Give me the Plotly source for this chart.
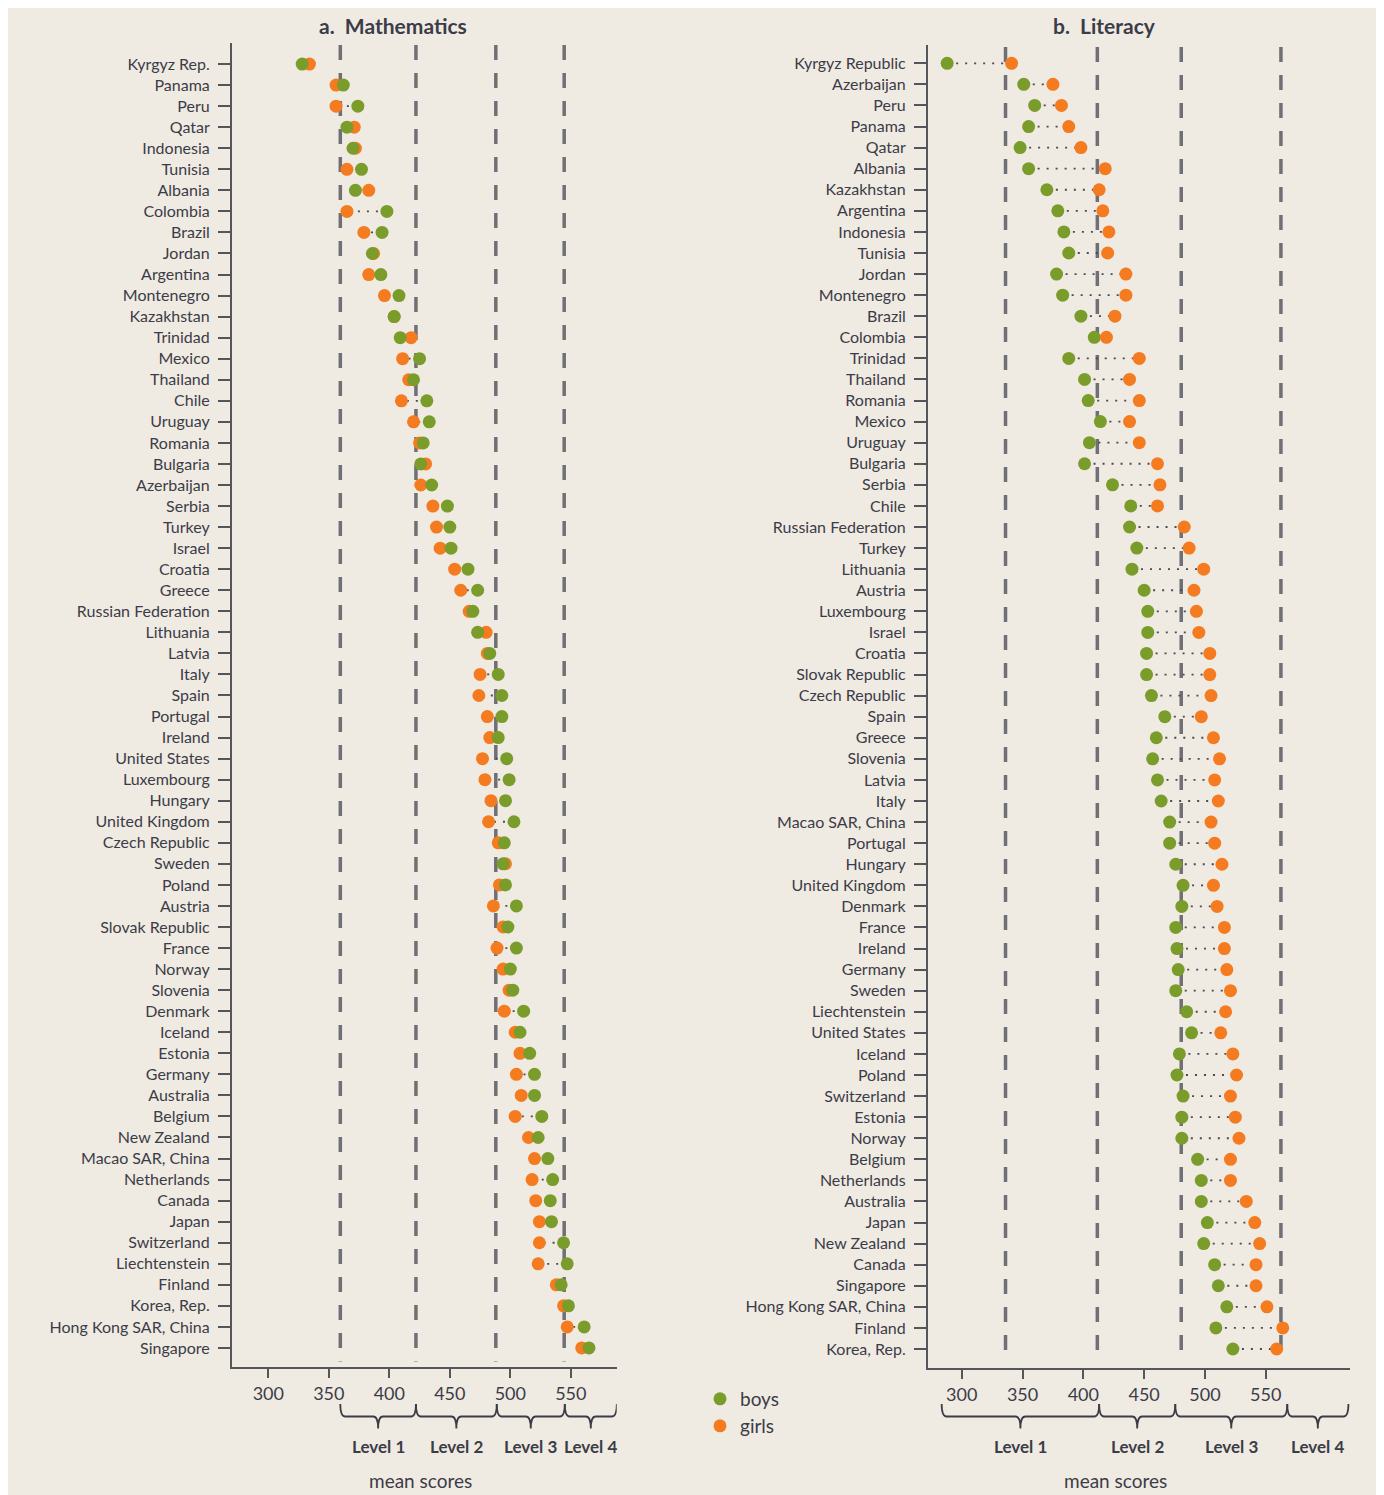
import plotly.graph_objects as go

# ---------------- data ----------------
math_countries = ["Kyrgyz Rep.", "Panama", "Peru", "Qatar", "Indonesia", "Tunisia", "Albania", "Colombia",
                  "Brazil", "Jordan", "Argentina", "Montenegro", "Kazakhstan", "Trinidad", "Mexico", "Thailand",
                  "Chile", "Uruguay", "Romania", "Bulgaria", "Azerbaijan", "Serbia", "Turkey", "Israel", "Croatia",
                  "Greece", "Russian Federation", "Lithuania", "Latvia", "Italy", "Spain", "Portugal", "Ireland",
                  "United States", "Luxembourg", "Hungary", "United Kingdom", "Czech Republic", "Sweden", "Poland",
                  "Austria", "Slovak Republic", "France", "Norway", "Slovenia", "Denmark", "Iceland", "Estonia",
                  "Germany", "Australia", "Belgium", "New Zealand", "Macao SAR, China", "Netherlands", "Canada",
                  "Japan", "Switzerland", "Liechtenstein", "Finland", "Korea, Rep.", "Hong Kong SAR, China",
                  "Singapore"]
math_boys = [328, 362, 374, 365, 370, 377, 372, 398, 394, 386, 393, 408, 404, 409, 425, 420, 431, 433, 428, 426,
             435, 448, 450, 451, 465, 473, 469, 473, 483, 490, 493, 493, 490, 497, 499, 496, 503, 495, 494, 496,
             505, 498, 505, 500, 502, 511, 508, 516, 520, 520, 526, 523, 531, 535, 533, 534, 544, 547, 542, 548,
             561, 565]
math_girls = [334, 356, 356, 371, 372, 365, 383, 365, 379, 387, 383, 396, 404, 418, 411, 416, 410, 420, 425, 430,
              426, 436, 439, 442, 454, 459, 466, 480, 481, 475, 474, 481, 483, 477, 479, 484, 482, 490, 496, 491,
              486, 494, 489, 494, 499, 495, 504, 508, 505, 509, 504, 515, 520, 518, 521, 524, 524, 523, 538, 544,
              547, 559]

lit_countries = ["Kyrgyz Republic", "Azerbaijan", "Peru", "Panama", "Qatar", "Albania", "Kazakhstan", "Argentina",
                 "Indonesia", "Tunisia", "Jordan", "Montenegro", "Brazil", "Colombia", "Trinidad", "Thailand",
                 "Romania", "Mexico", "Uruguay", "Bulgaria", "Serbia", "Chile", "Russian Federation", "Turkey",
                 "Lithuania", "Austria", "Luxembourg", "Israel", "Croatia", "Slovak Republic", "Czech Republic",
                 "Spain", "Greece", "Slovenia", "Latvia", "Italy", "Macao SAR, China", "Portugal", "Hungary",
                 "United Kingdom", "Denmark", "France", "Ireland", "Germany", "Sweden", "Liechtenstein",
                 "United States", "Iceland", "Poland", "Switzerland", "Estonia", "Norway", "Belgium", "Netherlands",
                 "Australia", "Japan", "New Zealand", "Canada", "Singapore", "Hong Kong SAR, China", "Finland",
                 "Korea, Rep."]
lit_boys = [288, 351, 360, 355, 348, 355, 370, 379, 384, 388, 378, 383, 398, 409, 388, 401, 404, 414, 405, 401,
            424, 439, 438, 444, 440, 450, 453, 453, 452, 452, 456, 467, 460, 457, 461, 464, 471, 471, 476, 482,
            481, 476, 477, 478, 476, 485, 489, 479, 477, 482, 481, 481, 494, 497, 497, 502, 499, 508, 511, 518,
            509, 523]
lit_girls = [341, 375, 382, 388, 398, 418, 413, 416, 421, 420, 435, 435, 426, 419, 446, 438, 446, 438, 446, 461,
             463, 461, 483, 487, 499, 491, 493, 495, 504, 504, 505, 497, 507, 512, 508, 511, 505, 508, 514, 507,
             510, 516, 516, 518, 521, 517, 513, 523, 526, 521, 525, 528, 521, 521, 534, 541, 545, 542, 542, 551,
             564, 559]

x_ticks = [300, 350, 400, 450, 500, 550]
math_level_lines = [359.5, 422, 488, 544.5]
lit_level_lines = [336, 411.5, 480.5, 562.5]
math_brace_edges = [359.5, 422, 488.8, 545, 588]
lit_brace_edges = [283.5, 413, 475.6, 567.7, 618]
level_labels = ["Level 1", "Level 2", "Level 3", "Level 4"]

# ---------------- style ----------------
OFF = 8                      # default page margin of the html body
W, H = 1384 - OFF, 1495 - OFF
BG = "#EFEBE2"
TXT = "#3c3c48"
GREEN = "#7a9c2b"
ORANGE = "#f47b20"
DASH = "#6f6f75"
FONT = "Lato"


def px(xp):
    return (xp - OFF) / W


def py(yp):
    return 1 - (yp - OFF) / H


fig = go.Figure()


def add_panel(names, boys, girls, xa, ya, girls_on_top):
    n = len(names)
    cx, cy = [], []
    for i in range(n):
        cx += [boys[i], girls[i], None]
        cy += [i, i, None]
    fig.add_trace(go.Scatter(x=cx, y=cy, mode="lines", xaxis=xa, yaxis=ya, showlegend=False,
                             hoverinfo="skip",
                             line=dict(color="#4a4a50", width=1.8, dash="2px,7px")))
    idx = list(range(n))
    tb = go.Scatter(x=boys, y=idx, mode="markers", xaxis=xa, yaxis=ya, name="boys",
                    marker=dict(color=GREEN, size=13), showlegend=False)
    tg = go.Scatter(x=girls, y=idx, mode="markers", xaxis=xa, yaxis=ya, name="girls",
                    marker=dict(color=ORANGE, size=13), showlegend=False)
    if girls_on_top:
        fig.add_trace(tb)
        fig.add_trace(tg)
    else:
        fig.add_trace(tg)
        fig.add_trace(tb)


add_panel(math_countries, math_boys, math_girls, "x", "y", girls_on_top=False)
add_panel(lit_countries, lit_boys, lit_girls, "x2", "y2", girls_on_top=True)

# legend entries (separate legends for exact placement)
fig.add_trace(go.Scatter(x=[None], y=[None], mode="markers", name="boys", xaxis="x", yaxis="y",
                         marker=dict(color=GREEN, size=13), legend="legend", showlegend=True))
fig.add_trace(go.Scatter(x=[None], y=[None], mode="markers", name="girls", xaxis="x", yaxis="y",
                         marker=dict(color=ORANGE, size=13), legend="legend2", showlegend=True))

axis_common = dict(showgrid=False, zeroline=False, showline=True, linecolor="#55555c", linewidth=1.5,
                   ticks="outside", tickcolor="#55555c", tickwidth=1.5)

xcommon = dict(axis_common, tickvals=x_ticks, ticklen=10, tickfont=dict(size=18, color=TXT, family=FONT))
ycommon = dict(axis_common, tickvals=list(range(len(math_countries))), ticklen=12,
               tickfont=dict(size=16, color=TXT, family=FONT), ticklabelstandoff=5)

fig.update_layout(
    width=W, height=H,
    margin=dict(l=0, r=0, t=0, b=0),
    paper_bgcolor=BG,
    plot_bgcolor="rgba(0,0,0,0)",
    font=dict(family=FONT, color=TXT),
    xaxis=dict(xcommon, domain=[px(231.7), px(616.7)], range=[269.75, 587.9], anchor="y"),
    yaxis=dict(ycommon, domain=[py(1366.7), py(43)], range=[61.89, -1.0], anchor="x",
               ticktext=math_countries),
    xaxis2=dict(xcommon, domain=[px(927.7), px(1350)], range=[272.0, 619.3], anchor="y2"),
    yaxis2=dict(ycommon, domain=[py(1367.7), py(45)], range=[61.887, -0.868], anchor="x2",
                ticktext=lit_countries),
    legend=dict(x=px(700), y=py(1399), xanchor="left", yanchor="middle", bgcolor="rgba(0,0,0,0)",
                font=dict(size=19, color=TXT, family=FONT)),
    legend2=dict(x=px(700), y=py(1426), xanchor="left", yanchor="middle", bgcolor="rgba(0,0,0,0)",
                 font=dict(size=19, color=TXT, family=FONT)),
    hovermode=False,
)

shapes = []
# dashed level lines
for xa, yd, lines in (("x", "y domain", math_level_lines), ("x2", "y2 domain", lit_level_lines)):
    for v in lines:
        shapes.append(dict(type="line", xref=xa, yref=yd, x0=v, x1=v, y0=0.9985, y1=0.004,
                           line=dict(color=DASH, width=3.5, dash="15px,13px"), layer="below"))

# braces
y_top, y_mid, y_tip = py(1404), py(1416.5), py(1428.5)
annotations = []
for xa, edges in (("x", math_brace_edges), ("x2", lit_brace_edges)):
    for k in range(len(edges) - 1):
        a, b = edges[k], edges[k + 1]
        c = (a + b) / 2
        r = 4.0
        path = (f"M {a},{y_top} Q {a},{y_mid} {a + r},{y_mid} L {c - r},{y_mid} "
                f"Q {c},{y_mid} {c},{y_tip} Q {c},{y_mid} {c + r},{y_mid} "
                f"L {b - r},{y_mid} Q {b},{y_mid} {b},{y_top}")
        shapes.append(dict(type="path", xref=xa, yref="paper", path=path,
                           line=dict(color=TXT, width=1.8)))
        annotations.append(dict(xref=xa, yref="paper", x=c, y=py(1446), text=level_labels[k],
                                showarrow=False, xanchor="center", yanchor="middle",
                                font=dict(size=17, color=TXT, family=FONT, weight="bold")))

# titles and axis titles
annotations += [
    dict(xref="paper", yref="paper", x=px(393), y=py(25), text="a.\u00a0 Mathematics", showarrow=False,
         xanchor="center", yanchor="middle", font=dict(size=21, color=TXT, family=FONT, weight="bold")),
    dict(xref="paper", yref="paper", x=px(1104), y=py(25), text="b.\u00a0 Literacy", showarrow=False,
         xanchor="center", yanchor="middle", font=dict(size=21, color=TXT, family=FONT, weight="bold")),
    dict(xref="paper", yref="paper", x=px(421), y=py(1480), text="mean scores", showarrow=False,
         xanchor="center", yanchor="middle", font=dict(size=19, color=TXT, family=FONT)),
    dict(xref="paper", yref="paper", x=px(1115), y=py(1480), text="mean scores", showarrow=False,
         xanchor="center", yanchor="middle", font=dict(size=19, color=TXT, family=FONT)),
]

fig.update_layout(shapes=shapes, annotations=annotations)
fig.write_html("out.html")
